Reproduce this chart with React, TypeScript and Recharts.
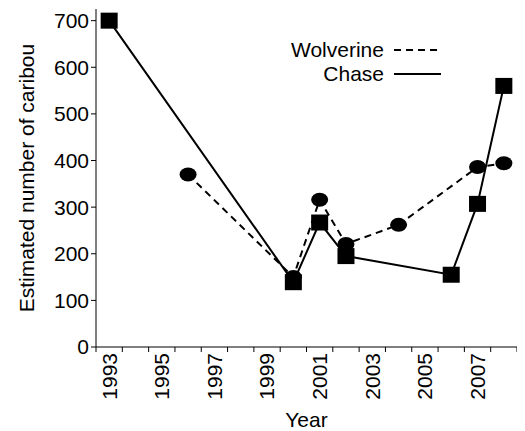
import { LineChart, Line, XAxis, YAxis, Legend } from 'recharts'

const FONT = '"Liberation Sans", Arial, sans-serif'
const FS = 21

const seriesNames = ['Wolverine', 'Chase']

const wolverineYears = [1996, 2000, 2001, 2002, 2004, 2007, 2008]
const wolverineCounts = [370, 150, 316, 221, 262, 386, 394]

const chaseYears = [1993, 2000, 2001, 2002, 2006, 2007, 2008]
const chaseCounts = [700, 139, 267, 195, 155, 307, 560]

// tick marks sit between the years, labels every other year
const yearEdges = [
  1992.5, 1993.5, 1994.5, 1995.5, 1996.5, 1997.5, 1998.5, 1999.5, 2000.5,
  2001.5, 2002.5, 2003.5, 2004.5, 2005.5, 2006.5, 2007.5, 2008.5,
]
const yearLabels = [1993, 1995, 1997, 1999, 2001, 2003, 2005, 2007]
const countTicks = [0, 100, 200, 300, 400, 500, 600, 700]

const wolverineData = wolverineYears.map((year, i) => ({ year, count: wolverineCounts[i] }))
const chaseData = chaseYears.map((year, i) => ({ year, count: chaseCounts[i] }))

const SquareDot = (props: any) => {
  const { cx, cy, index } = props
  if (cx == null || cy == null) return null
  return <rect key={`sq-${index}`} x={cx - 8.5} y={cy - 8} width={17} height={16} fill="#000" />
}

const OvalDot = (props: any) => {
  const { cx, cy, index } = props
  if (cx == null || cy == null) return null
  return <ellipse key={`ov-${index}`} cx={cx} cy={cy} rx={8.5} ry={7} fill="#000" />
}

const YearTick = (props: any) => {
  const { x, y, payload } = props
  return (
    <text
      x={x}
      y={y}
      transform={`rotate(-90, ${x}, ${y})`}
      textAnchor="end"
      dy="0.355em"
      fontSize={FS}
      fontFamily={FONT}
      fill="#000"
    >
      {payload.value}
    </text>
  )
}

const NoTick = () => <g />

const renderLegend = (props: any) => {
  const items = [...(props.payload || [])].sort(
    (a: any, b: any) => seriesNames.indexOf(a.value) - seriesNames.indexOf(b.value)
  )
  return (
    <div style={{ fontFamily: FONT, fontSize: FS, color: '#000' }}>
      {items.map((entry: any) => (
        <div
          key={entry.value}
          style={{ display: 'flex', alignItems: 'center', justifyContent: 'flex-end', height: 24 }}
        >
          <span>{entry.value}</span>
          <svg width={47} height={4} style={{ marginLeft: 10 }}>
            <line
              x1={0}
              y1={2}
              x2={47}
              y2={2}
              stroke="#000"
              strokeWidth={2}
              strokeDasharray={entry.payload?.strokeDasharray}
            />
          </svg>
        </div>
      ))}
    </div>
  )
}

export default function App() {
  return (
    <LineChart
      width={517}
      height={423}
      margin={{ top: 1, right: 8, bottom: 0, left: 0 }}
      style={{ fontFamily: FONT }}
    >
      <XAxis
        xAxisId="b"
        dataKey="year"
        type="number"
        domain={[1992.5, 2008.5]}
        ticks={yearLabels}
        tick={<YearTick />}
        tickLine={false}
        axisLine={false}
        tickSize={0}
        tickMargin={1}
        height={79}
        interval={0}
        allowDataOverflow
        label={{ value: 'Year', position: 'insideBottom', offset: 4, fontSize: FS, fill: '#000' }}
      />
      <XAxis
        xAxisId="a"
        dataKey="year"
        type="number"
        domain={[1992.5, 2008.5]}
        ticks={yearEdges}
        tick={NoTick}
        tickSize={5}
        height={5}
        stroke="#000"
        interval={0}
        allowDataOverflow
      />
      <YAxis
        type="number"
        domain={[0, 725]}
        ticks={countTicks}
        width={88}
        tickSize={5}
        stroke="#000"
        tick={{ fontSize: FS, fill: '#000' }}
        interval={0}
        label={{
          value: 'Estimated number of caribou',
          angle: -90,
          position: 'insideLeft',
          offset: 19,
          fontSize: FS,
          fill: '#000',
          style: { textAnchor: 'middle' },
        }}
      />
      <Legend
        layout="vertical"
        align="center"
        verticalAlign="middle"
        content={renderLegend}
        wrapperStyle={{ top: 30, left: 283, width: 'auto' }}
      />
      <Line
        xAxisId="a"
        data={wolverineData}
        dataKey="count"
        name="Wolverine"
        stroke="#000"
        strokeWidth={2}
        strokeDasharray="7 5"
        dot={OvalDot}
        activeDot={false}
        isAnimationActive={false}
      />
      <Line
        xAxisId="a"
        data={chaseData}
        dataKey="count"
        name="Chase"
        stroke="#000"
        strokeWidth={2}
        dot={SquareDot}
        activeDot={false}
        isAnimationActive={false}
      />
    </LineChart>
  )
}
